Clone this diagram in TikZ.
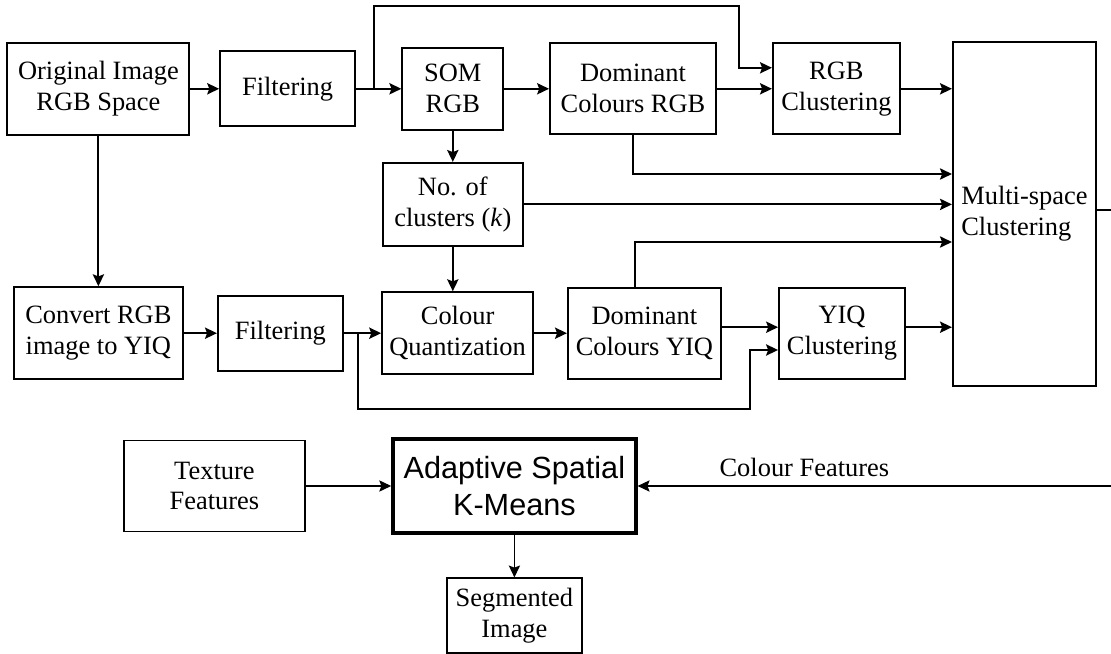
\documentclass[tikz,border=0pt]{standalone}
\usepackage{fontspec}
\setmainfont{Liberation Serif}
\newfontfamily\arialfont{Liberation Sans}
\usetikzlibrary{positioning,arrows.meta}
\tikzset {
    style A/.style={
        draw=black,
        rectangle, % Set the shape as a rectangle
        inner sep=2pt,
        align=center,
    },
    style B/.style={
        draw=black,
        line width=0.9pt,
        rectangle, % Set the shape as a rectangle
        inner sep=2pt,
        align=center,
    },
    style C/.style={
        draw=black,
        line width=2.4pt,
        rectangle, % Set the shape as a rectangle
        inner sep=2pt,
        align=center,
        font=\arialfont\fontsize{21.8}{26.3}\selectfont,
    },
}

\begin{document}
\begin{tikzpicture}
[font=\fontsize{18.8}{22}\selectfont, line width=1.35pt, >={Stealth[length=8.5pt,width=8pt,inset=1.5pt]}]
\clip (0,0) rectangle (27.775,-16.35);

% RGB row
\node[style A, minimum width=4.55cm, minimum height=2.3cm] at (2.46,-2.22) (orig) {Original Image\\RGB Space};
\node[style A, minimum width=3.375cm, minimum height=1.875cm] at (7.19,-2.22) (filt1) {Filtering};
\node[style A, minimum width=2.525cm, minimum height=2.05cm] at (11.32,-2.22) (som) {SOM\\RGB};
\node[style A, minimum width=4.15cm, minimum height=2.275cm] at (15.825,-2.22) (domRGB) {Dominant\\Colours RGB};
\node[style A, minimum width=3.175cm, minimum height=2.275cm] at (20.91,-2.22) (rgbClust) {RGB\\Clustering};
\node[style A, minimum width=3.575cm, minimum height=8.6cm, align=left] at (25.61,-5.35) (multi) {Multi-space\\Clustering};
\node[style A, minimum width=3.5cm, minimum height=2.075cm] at (11.32,-5.11) (nclust) {No. of\\clusters (\textit{k})};

% YIQ row
\node[style A, minimum width=4.225cm, minimum height=2.3cm] at (2.46,-8.33) (conv) {Convert RGB\\image to YIQ};
\node[style A, minimum width=3.125cm, minimum height=1.875cm] at (7.01,-8.33) (filt2) {Filtering};
\node[style A, minimum width=3.775cm, minimum height=2.05cm] at (11.44,-8.33) (quant) {Colour\\Quantization};
\node[style A, minimum width=3.825cm, minimum height=2.275cm] at (16.11,-8.33) (domYIQ) {Dominant\\Colours YIQ};
\node[style A, minimum width=3.15cm, minimum height=2.275cm] at (21.05,-8.33) (yiqClust) {YIQ\\Clustering};

% segmentation
\node[style B, minimum width=4.525cm, minimum height=2.275cm] at (5.36,-12.15) (texture) {Texture\\Features};
\node[style C, minimum width=6.075cm, minimum height=2.35cm] at (12.86,-12.15) (askm) {Adaptive Spatial\\K-Means};
\node[style B, minimum width=3.375cm, minimum height=1.875cm] at (12.86,-15.39) (seg) {Segmented\\Image};

\draw[->] (orig) -- (filt1);
\draw[->] (filt1) -- (som);
\draw[->] ([xshift=0.45cm]filt1.east) -- ++(0,2.07) -| ([xshift=-0.825cm,yshift=0.525cm]rgbClust.west) -- ([yshift=0.525cm]rgbClust.west);
\draw[->] (som) -- (domRGB);
\draw[->] (domRGB) -- (rgbClust);
\draw[->] (rgbClust) -- (rgbClust -| multi.west);
\draw[->] (domRGB.south) |- ([yshift=1cm]multi.west);
\draw[->] (som) -- (nclust);
\draw[->] (nclust) -- (nclust -| multi.west);
\draw[->] (nclust) -- (nclust |- quant.north);
\draw[->] (orig) -- (conv);
\draw[->] (conv) -- (filt2);
\draw[->] (filt2) -- (quant);
\draw[->] ([xshift=0.35cm]filt2.east) -- ++(0,-1.9) -| ([xshift=-0.7cm,yshift=-0.42cm]yiqClust.west) -- ([yshift=-0.42cm]yiqClust.west);
\draw[->] (quant) -- (domYIQ);
\draw[->] ([yshift=0.15cm]domYIQ.east) -- ([yshift=0.15cm]yiqClust.west);
\draw[->] ([yshift=0.15cm]yiqClust.east) -- ([yshift=0.15cm]yiqClust.east -| multi.west);
\draw[->] ([xshift=-0.24cm]domYIQ.north) |- ([yshift=-0.7cm]multi.west);
\draw[line width=0.9pt, ->] ([yshift=0.1cm]multi.east) -- ++(0.5,0) |- node[pos=0.826, above=3pt] {Colour Features} (askm.east);
\draw[line width=0.9pt, ->] (texture) -- (askm);
\draw[line width=0.9pt, ->] (askm) -- (seg);
\end{tikzpicture}
\end{document}
